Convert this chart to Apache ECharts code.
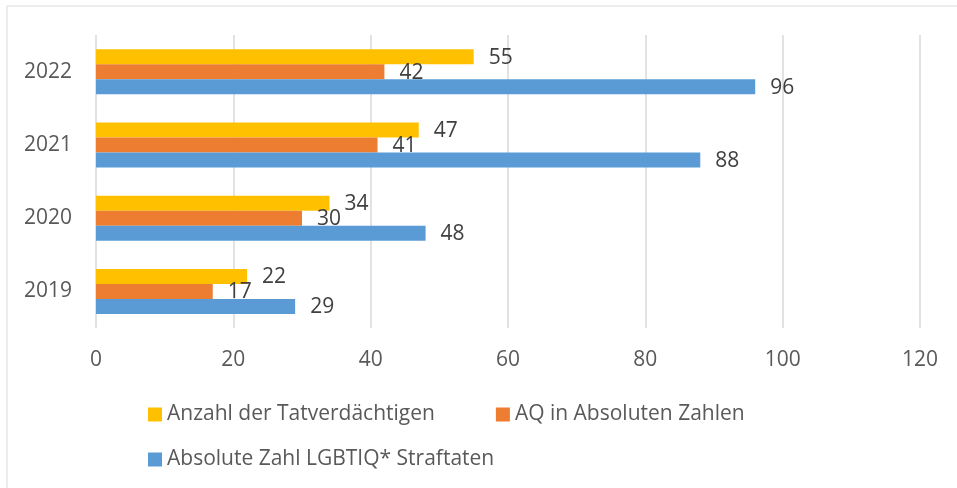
<!DOCTYPE html>
<html>
<head>
<meta charset="utf-8">
<script src="https://cdn.jsdelivr.net/npm/echarts@6/dist/echarts.min.js"></script>
<style>
  html, body { margin: 0; padding: 0; background: #fff; }
  #chart { width: 957px; height: 488px; }
</style>
</head>
<body>
<div id="chart"></div>
<script>
const years = ["2019", "2020", "2021", "2022"];
const straftaten = [29, 48, 88, 96];
const aq = [17, 30, 41, 42];
const tatverdaechtige = [22, 34, 47, 55];
const xTicks = [0, 20, 40, 60, 80, 100, 120];

const fontFamily = "'Open Sans', sans-serif";
const labelStyle = {
  show: true,
  position: "right",
  distance: 15,
  offset: [0, 1],
  color: "#404040",
  fontSize: 21,
  fontFamily: fontFamily
};

function barSeries(name, data, color) {
  return {
    name: name,
    type: "bar",
    data: data,
    barWidth: 15,
    barGap: 0,
    itemStyle: { color: color },
    label: labelStyle
  };
}

const chart = echarts.init(document.getElementById("chart"));
chart.setOption({
  animation: false,
  graphic: [
    {
      type: "rect",
      shape: { x: 7, y: 6, width: 960, height: 500 },
      style: { fill: "none", stroke: "#d9d9d9", lineWidth: 1 }
    }
  ],
  grid: { left: 96, right: 37, top: 35, height: 293 },
  legend: [
    {
      data: ["Anzahl der Tatverdächtigen", "AQ in Absoluten Zahlen"],
      left: 143,
      top: 399,
      itemWidth: 14,
      itemHeight: 14,
      itemGap: 61,
      icon: "rect",
      textStyle: { color: "#595959", fontSize: 21, fontFamily: fontFamily }
    },
    {
      data: ["Absolute Zahl LGBTIQ* Straftaten"],
      left: 143,
      top: 444,
      itemWidth: 14,
      itemHeight: 14,
      icon: "rect",
      textStyle: { color: "#595959", fontSize: 21, fontFamily: fontFamily }
    }
  ],
  xAxis: {
    type: "value",
    min: xTicks[0],
    max: xTicks[xTicks.length - 1],
    interval: 20,
    axisLine: { show: false },
    axisTick: { show: false },
    splitLine: { lineStyle: { color: "#d9d9d9", width: 1.5 } },
    axisLabel: { color: "#595959", fontSize: 21, fontFamily: fontFamily, margin: 22 }
  },
  yAxis: {
    type: "category",
    data: years,
    axisLine: { show: false },
    axisTick: { show: false },
    axisLabel: { color: "#595959", fontSize: 21, fontFamily: fontFamily, margin: 24 }
  },
  series: [
    barSeries("Anzahl der Tatverdächtigen", tatverdaechtige, "#FFC000"),
    barSeries("AQ in Absoluten Zahlen", aq, "#ED7D31"),
    barSeries("Absolute Zahl LGBTIQ* Straftaten", straftaten, "#5B9BD5")
  ]
});
</script>
</body>
</html>
